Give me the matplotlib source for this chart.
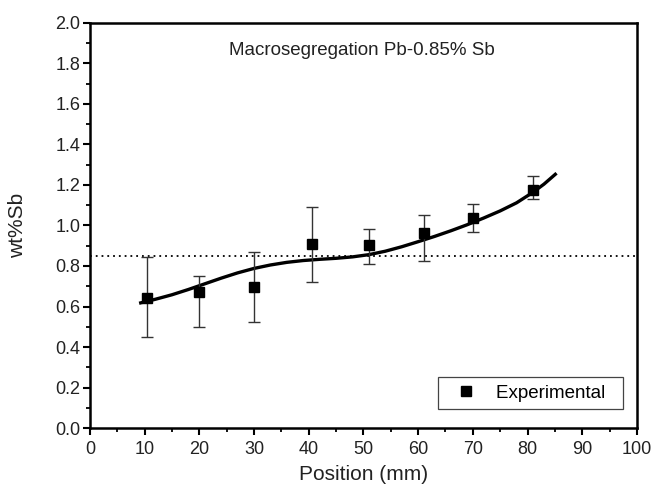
import matplotlib
matplotlib.use("Agg")
import matplotlib.pyplot as plt
from matplotlib.lines import Line2D
from matplotlib.ticker import MultipleLocator, FormatStrFormatter
import numpy as np

plt.rcParams["font.family"] = ["Liberation Sans", "DejaVu Sans"]

# experimental points (position mm, wt% Sb) with asymmetric error limits
pos = [10.4, 20.0, 30.0, 40.6, 51.0, 61.1, 70.0, 81.0]
wt = [0.64, 0.673, 0.698, 0.907, 0.905, 0.964, 1.035, 1.174]
err_low = [0.45, 0.50, 0.522, 0.722, 0.811, 0.823, 0.966, 1.131]
err_high = [0.843, 0.75, 0.871, 1.093, 0.981, 1.053, 1.105, 1.244]

# fitted curve
curve_x = [9.0, 12, 15, 18, 21, 24, 27, 30, 33, 36, 39, 42, 45, 48, 51,
           54, 57, 60, 63, 66, 69, 72, 75, 78, 81, 83, 85.3]
curve_y = [0.616, 0.636, 0.658, 0.684, 0.712, 0.740, 0.766, 0.788, 0.805,
           0.818, 0.827, 0.833, 0.838, 0.845, 0.856, 0.873, 0.895, 0.920,
           0.946, 0.974, 1.004, 1.037, 1.072, 1.112, 1.164, 1.204, 1.258]

nominal = 0.85

fig = plt.figure(figsize=(6.56, 4.87), dpi=100)
ax = fig.add_axes([0.137, 0.121, 0.834, 0.832])

ax.axhline(nominal, color="black", lw=1.3, ls=(0, (1, 2.2)), zorder=1)
ax.plot(curve_x, curve_y, color="black", lw=2.4, zorder=2,
        solid_joinstyle="round", solid_capstyle="butt")

yerr = [np.array(wt) - np.array(err_low), np.array(err_high) - np.array(wt)]
ax.errorbar(pos, wt, yerr=yerr, fmt="s", color="black", ms=7, ecolor="#333333",
            elinewidth=1.0, capsize=4.5, capthick=1.0, zorder=3)

ax.text(49.7, 1.865, "Macrosegregation Pb-0.85% Sb", ha="center", va="center",
        fontsize=13.5, color="#222222")

ax.set_xlim(0, 100)
ax.set_ylim(0, 2.0)
ax.xaxis.set_major_locator(MultipleLocator(10))
ax.xaxis.set_minor_locator(MultipleLocator(5))
ax.yaxis.set_major_locator(MultipleLocator(0.2))
ax.yaxis.set_minor_locator(MultipleLocator(0.1))
ax.yaxis.set_major_formatter(FormatStrFormatter("%.1f"))
ax.tick_params(which="major", direction="out", length=5, width=1.5,
               labelsize=13, colors="black", labelcolor="#222222", pad=2)
ax.tick_params(axis="x", which="major", pad=4)
ax.tick_params(which="minor", direction="out", length=3, width=1.3)
for s in ax.spines.values():
    s.set_linewidth(1.8)

ax.set_xlabel("Position (mm)", fontsize=15, color="#222222", labelpad=5)
ax.set_ylabel("wt%Sb", fontsize=15, color="#222222", labelpad=20)

handle = Line2D([], [], ls="none", marker="s", ms=7, color="black")
leg = ax.legend([handle], ["Experimental  "], loc="lower right",
                bbox_to_anchor=(0.974, 0.047), fontsize=13.5,
                fancybox=False, framealpha=1, edgecolor="#444444",
                handletextpad=0.45, handlelength=2.2, borderpad=0.4,
                borderaxespad=0)
leg.get_frame().set_linewidth(0.9)

fig.savefig("out.png", dpi=100)
